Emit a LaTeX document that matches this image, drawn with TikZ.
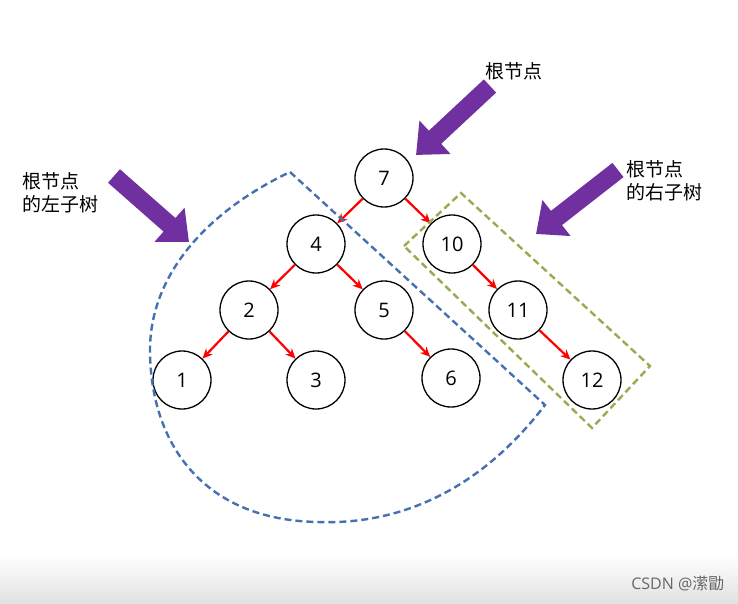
\documentclass[tikz,border=0pt]{standalone}
\usepackage{fontspec}
\setmainfont{Open Sans}
\newfontfamily\cjk{Noto Sans CJK SC}
\usetikzlibrary{arrows.meta}
\begin{document}
\begin{tikzpicture}[x=1pt,y=-1pt,
  tn/.style={circle,draw,line width=1.3pt,minimum size=58pt,inner sep=0pt,font=\fontsize{20}{24}\selectfont},
  ed/.style={red,line width=2.2pt,-{Stealth[length=10pt,width=9pt]}},
  big/.style={line width=18pt,color={rgb,255:red,112;green,48;blue,160},-{Triangle[length=26pt,width=44pt]}},
  lbl/.style={font=\cjk\fontsize{19}{23}\selectfont,align=left,anchor=north west,inner sep=0pt}]
\useasboundingbox (0,0) rectangle (738,604);
\shade[top color=white,bottom color=black!12] (0,555) rectangle (738,604);
\node[tn] (n7) at (384,178) {7};
\node[tn] (n4) at (316,244) {4};
\node[tn] (n10) at (452,244) {10};
\node[tn] (n2) at (249,310) {2};
\node[tn] (n5) at (384,310) {5};
\node[tn] (n11) at (518,310) {11};
\node[tn] (n1) at (182,380) {1};
\node[tn] (n3) at (316,380) {3};
\node[tn] (n6) at (451,378) {6};
\node[tn] (n12) at (592,380) {12};
\draw[ed] (n7) -- (n4); \draw[ed] (n7) -- (n10);
\draw[ed] (n4) -- (n2); \draw[ed] (n4) -- (n5);
\draw[ed] (n10) -- (n11); \draw[ed] (n11) -- (n12);
\draw[ed] (n2) -- (n1); \draw[ed] (n2) -- (n3);
\draw[ed] (n5) -- (n6);
\coordinate (a1s) at (490,86); \coordinate (a1e) at (416,155);
\coordinate (a2s) at (114,176); \coordinate (a2e) at (189,242);
\coordinate (a3s) at (618,170); \coordinate (a3e) at (536,234);
\draw[big] (a1s) -- (a1e);
\draw[big] (a2s) -- (a2e);
\draw[big] (a3s) -- (a3e);
\node[lbl] (t1) at (485,62) {根节点};
\node[lbl] (t2) at (22,172) {根节点\\的左子树};
\node[lbl] (t3) at (626,160) {根节点\\的右子树};
\draw[line width=2.4pt,color={rgb,255:red,68;green,114;blue,176},dash pattern=on 7pt off 4pt]
  (290,172) -- (545,405) .. controls (480,490) and (400,525) .. (318,522)
  .. controls (200,520) and (150,440) .. (150,350) .. controls (150,280) and (200,215) .. cycle;
\draw[line width=2.4pt,color={rgb,255:red,155;green,170;blue,80},dash pattern=on 7pt off 4pt]
  (404,246) -- (461,193) -- (650,366) -- (592,428) -- cycle;
\node[font=\fontsize{16}{19}\selectfont,text=black!60,anchor=east] (wm) at (728,583) {CSDN @{\cjk 潆勖}};
\end{tikzpicture}
\end{document}
